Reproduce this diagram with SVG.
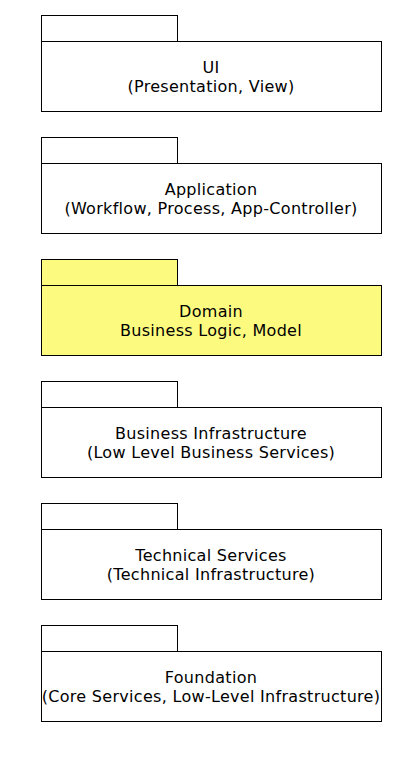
<svg xmlns="http://www.w3.org/2000/svg" width="405" height="765" viewBox="0 0 405 765">
<style>
.pk{fill:#ffffff;stroke:#000000;stroke-width:1}
.dm{fill:#fdfa80}
.t{font-family:"DejaVu Sans","Liberation Sans",sans-serif;font-size:16px;letter-spacing:0.3px;fill:#000000;text-anchor:middle}
</style>
<rect width="405" height="765" fill="#ffffff"/>
<g id="ui">
<rect class="pk" x="41.5" y="15.5" width="136" height="26"/>
<rect class="pk" x="41.5" y="41.5" width="340" height="70"/>
<text class="t" x="211" y="73">UI</text>
<text class="t" x="211" y="92">(Presentation, View)</text>
</g>
<g id="application">
<rect class="pk" x="41.5" y="137.5" width="136" height="26"/>
<rect class="pk" x="41.5" y="163.5" width="340" height="70"/>
<text class="t" x="211" y="195">Application</text>
<text class="t" x="211" y="214">(Workflow, Process, App-Controller)</text>
</g>
<g id="domain">
<rect class="pk dm" x="41.5" y="259.5" width="136" height="26"/>
<rect class="pk dm" x="41.5" y="285.5" width="340" height="70"/>
<text class="t" x="211" y="317">Domain</text>
<text class="t" x="211" y="336">Business Logic, Model</text>
</g>
<g id="business-infrastructure">
<rect class="pk" x="41.5" y="381.5" width="136" height="26"/>
<rect class="pk" x="41.5" y="407.5" width="340" height="70"/>
<text class="t" x="211" y="439">Business Infrastructure</text>
<text class="t" x="211" y="458">(Low Level Business Services)</text>
</g>
<g id="technical-services">
<rect class="pk" x="41.5" y="503.5" width="136" height="26"/>
<rect class="pk" x="41.5" y="529.5" width="340" height="70"/>
<text class="t" x="211" y="561">Technical Services</text>
<text class="t" x="211" y="580">(Technical Infrastructure)</text>
</g>
<g id="foundation">
<rect class="pk" x="41.5" y="625.5" width="136" height="26"/>
<rect class="pk" x="41.5" y="651.5" width="340" height="70"/>
<text class="t" x="211" y="683">Foundation</text>
<text class="t" x="211" y="702">(Core Services, Low-Level Infrastructure)</text>
</g>
<g id="connectors"/>
</svg>
